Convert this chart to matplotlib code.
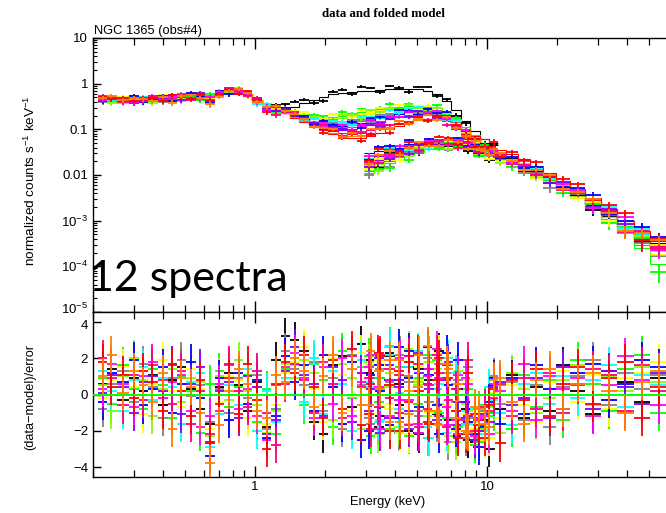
import numpy as np
import matplotlib
matplotlib.use("Agg")
import matplotlib.pyplot as plt
import matplotlib.transforms as mtransforms
from matplotlib.ticker import FixedLocator, NullFormatter, LogLocator

plt.rcParams['font.family'] = ['Liberation Sans', 'DejaVu Sans']
plt.rcParams['mathtext.fontset'] = 'custom'
plt.rcParams['mathtext.rm'] = 'Liberation Sans'
plt.rcParams['mathtext.it'] = 'Liberation Sans'

# ---------------- data ----------------
# soft instrument grid (keV)
E_X = [0.22, 0.24, 0.27, 0.30, 0.33, 0.36, 0.40, 0.44, 0.48, 0.53, 0.58, 0.64, 0.70, 0.77,
       0.85, 0.93, 1.02, 1.12, 1.23, 1.35, 1.48, 1.63, 1.79, 1.97, 2.16, 2.38, 2.61, 2.87,
       3.15, 3.46, 3.80, 4.18, 4.59, 5.04, 5.54, 6.09, 6.69, 7.35, 8.08, 8.88, 9.76, 10.7]
# hard instrument grid (keV)
E_N = [3.1, 3.4, 3.8, 4.2, 4.6, 5.1, 5.6, 6.2, 6.8, 7.5, 8.3, 9.2, 10.2, 11.4, 12.8, 14.4,
       16.3, 18.6, 21.3, 24.6, 28.6, 33.5, 39.5, 46.5, 55.0]

# fractional errors
ERR_X = [0.12, 0.12, 0.12, 0.12, 0.12, 0.12, 0.11, 0.11, 0.11, 0.10, 0.10, 0.10, 0.10, 0.10,
         0.10, 0.10, 0.10, 0.10, 0.10, 0.10, 0.10, 0.09, 0.09, 0.09, 0.09, 0.09, 0.09, 0.09,
         0.08, 0.08, 0.08, 0.08, 0.08, 0.08, 0.08, 0.08, 0.09, 0.10, 0.11, 0.13, 0.15, 0.17]
ERR_N = [0.14, 0.13, 0.12, 0.11, 0.10, 0.10, 0.09, 0.09, 0.09, 0.09, 0.09, 0.10, 0.10, 0.11,
         0.12, 0.13, 0.14, 0.15, 0.16, 0.18, 0.20, 0.22, 0.25, 0.28, 0.30]

# shared soft-band folded model (0.22 - 1.23 keV)
SOFT_MODEL = [0.43, 0.43, 0.43, 0.43, 0.43, 0.44, 0.46, 0.48, 0.50, 0.53, 0.55, 0.57, 0.62,
              0.68, 0.68, 0.58, 0.44, 0.35, 0.29]

names = ["black", "gray", "green", "yellow", "chartreuse", "cyan", "blue", "purple",
         "magenta", "pink", "red", "orange"]
colors = ["#000000", "#808080", "#00FF00", "#FFFF00", "#80FF00", "#00FFFF", "#0000FF",
          "#8000FF", "#FF00FF", "#FF0080", "#FF0000", "#FF8000"]

# folded model 1.35 - 10.7 keV (soft instrument)
HARD_X = {
    "black":      [0.27, 0.31, 0.37, 0.44, 0.52, 0.58, 0.62, 0.65, 0.68, 0.70, 0.72, 0.75, 0.77, 0.78, 0.76, 0.70, 0.58, 0.42, 0.26, 0.15, 0.09, 0.06, 0.045],
    "gray":       [0.24, 0.20, 0.17, 0.15, 0.135, 0.13, 0.13, 0.135, 0.15, 0.165, 0.185, 0.205, 0.225, 0.24, 0.25, 0.25, 0.24, 0.20, 0.14, 0.095, 0.065, 0.045, 0.032],
    "green":      [0.24, 0.21, 0.19, 0.18, 0.18, 0.19, 0.20, 0.22, 0.24, 0.26, 0.28, 0.30, 0.31, 0.32, 0.32, 0.31, 0.29, 0.24, 0.17, 0.11, 0.075, 0.05, 0.035],
    "yellow":     [0.24, 0.21, 0.19, 0.18, 0.175, 0.18, 0.19, 0.20, 0.22, 0.24, 0.26, 0.28, 0.29, 0.30, 0.30, 0.29, 0.27, 0.22, 0.16, 0.10, 0.07, 0.048, 0.034],
    "chartreuse": [0.24, 0.20, 0.18, 0.17, 0.165, 0.17, 0.18, 0.19, 0.21, 0.23, 0.25, 0.27, 0.28, 0.29, 0.29, 0.28, 0.26, 0.21, 0.15, 0.10, 0.068, 0.047, 0.033],
    "cyan":       [0.24, 0.20, 0.17, 0.15, 0.14, 0.135, 0.14, 0.15, 0.165, 0.18, 0.20, 0.22, 0.24, 0.25, 0.26, 0.26, 0.25, 0.20, 0.14, 0.095, 0.065, 0.045, 0.032],
    "blue":       [0.24, 0.20, 0.17, 0.145, 0.13, 0.12, 0.12, 0.125, 0.14, 0.16, 0.18, 0.20, 0.22, 0.24, 0.25, 0.25, 0.24, 0.20, 0.14, 0.095, 0.065, 0.045, 0.032],
    "purple":     [0.23, 0.19, 0.16, 0.13, 0.115, 0.10, 0.095, 0.10, 0.11, 0.125, 0.145, 0.165, 0.185, 0.20, 0.21, 0.21, 0.20, 0.17, 0.125, 0.087, 0.06, 0.042, 0.03],
    "magenta":    [0.23, 0.19, 0.16, 0.135, 0.12, 0.11, 0.105, 0.11, 0.12, 0.135, 0.155, 0.175, 0.195, 0.21, 0.22, 0.22, 0.21, 0.18, 0.13, 0.09, 0.062, 0.043, 0.031],
    "pink":       [0.23, 0.19, 0.155, 0.125, 0.105, 0.09, 0.082, 0.08, 0.085, 0.095, 0.11, 0.125, 0.14, 0.155, 0.165, 0.17, 0.17, 0.15, 0.115, 0.082, 0.057, 0.04, 0.029],
    "red":        [0.23, 0.18, 0.145, 0.115, 0.095, 0.08, 0.068, 0.063, 0.065, 0.072, 0.085, 0.10, 0.12, 0.14, 0.16, 0.17, 0.18, 0.17, 0.14, 0.10, 0.072, 0.06, 0.05],
    "orange":     [0.23, 0.185, 0.15, 0.12, 0.10, 0.085, 0.075, 0.072, 0.075, 0.085, 0.10, 0.115, 0.13, 0.145, 0.16, 0.17, 0.175, 0.16, 0.125, 0.09, 0.062, 0.044, 0.032],
}

# folded model, hard instrument
MODEL_N = {
    "black":      [0.015, 0.019, 0.024, 0.029, 0.034, 0.039, 0.044, 0.048, 0.049, 0.047, 0.043, 0.037, 0.031, 0.025, 0.0195, 0.0148, 0.011, 0.0078, 0.0054, 0.0036, 0.0022, 0.00125, 0.0007, 0.00039, 0.00024],
    "gray":       [0.012, 0.016, 0.020, 0.025, 0.030, 0.035, 0.040, 0.044, 0.046, 0.044, 0.040, 0.035, 0.029, 0.023, 0.018, 0.0137, 0.0101, 0.0071, 0.0049, 0.0032, 0.0019, 0.0011, 0.00058, 0.00030, 0.00017],
    "green":      [0.011, 0.014, 0.018, 0.022, 0.027, 0.032, 0.037, 0.041, 0.044, 0.044, 0.041, 0.036, 0.031, 0.025, 0.019, 0.0145, 0.011, 0.0077, 0.0053, 0.0035, 0.0021, 0.0011, 0.00055, 0.00025, 0.00011],
    "yellow":     [0.014, 0.018, 0.023, 0.028, 0.033, 0.038, 0.043, 0.047, 0.048, 0.046, 0.042, 0.036, 0.030, 0.024, 0.019, 0.0143, 0.0106, 0.0075, 0.0052, 0.0034, 0.0021, 0.0012, 0.00065, 0.00034, 0.00019],
    "chartreuse": [0.013, 0.017, 0.021, 0.026, 0.031, 0.036, 0.041, 0.045, 0.047, 0.045, 0.041, 0.036, 0.030, 0.024, 0.0188, 0.0142, 0.0105, 0.0074, 0.0051, 0.0034, 0.0021, 0.0012, 0.00064, 0.00033, 0.00018],
    "cyan":       [0.020, 0.024, 0.029, 0.034, 0.039, 0.044, 0.048, 0.052, 0.053, 0.051, 0.047, 0.041, 0.035, 0.028, 0.022, 0.0165, 0.0123, 0.0087, 0.0061, 0.0041, 0.0026, 0.0015, 0.00085, 0.00050, 0.00032],
    "blue":       [0.030, 0.034, 0.039, 0.043, 0.047, 0.051, 0.055, 0.058, 0.058, 0.055, 0.050, 0.043, 0.036, 0.029, 0.022, 0.017, 0.0125, 0.0088, 0.0062, 0.0042, 0.0027, 0.0015, 0.00085, 0.00048, 0.00030],
    "purple":     [0.017, 0.021, 0.026, 0.031, 0.036, 0.041, 0.046, 0.050, 0.051, 0.049, 0.045, 0.039, 0.033, 0.027, 0.021, 0.0158, 0.0117, 0.0082, 0.0057, 0.0038, 0.0024, 0.0014, 0.00077, 0.00043, 0.00026],
    "magenta":    [0.022, 0.026, 0.031, 0.035, 0.040, 0.045, 0.049, 0.053, 0.054, 0.052, 0.048, 0.042, 0.035, 0.028, 0.022, 0.0165, 0.0122, 0.0086, 0.006, 0.0040, 0.0025, 0.0014, 0.0008, 0.00045, 0.00028],
    "pink":       [0.016, 0.020, 0.025, 0.030, 0.035, 0.040, 0.045, 0.049, 0.050, 0.048, 0.044, 0.038, 0.032, 0.026, 0.020, 0.0152, 0.0113, 0.008, 0.0056, 0.0037, 0.0023, 0.0013, 0.00074, 0.00041, 0.00025],
    "red":        [0.024, 0.029, 0.034, 0.039, 0.044, 0.049, 0.054, 0.058, 0.060, 0.059, 0.055, 0.049, 0.043, 0.036, 0.029, 0.022, 0.016, 0.011, 0.0075, 0.0049, 0.0031, 0.0018, 0.0010, 0.00058, 0.00036],
    "orange":     [0.019, 0.023, 0.028, 0.033, 0.038, 0.043, 0.047, 0.051, 0.052, 0.050, 0.046, 0.040, 0.034, 0.027, 0.021, 0.016, 0.0118, 0.0083, 0.0058, 0.0039, 0.0024, 0.0014, 0.00078, 0.00044, 0.00027],
}

# residuals (data-model)/error, soft instrument
RES_X = {
    "black":      [0.6, 1.4, -0.3, 0.9, 0.2, 1.1, -0.6, 0.8, 1.5, 0.3, -0.8, -1.6, 0.4, 1.2, 0.5, -0.9, 0.7, -1.8, 1.9, 3.2, 3.0, 2.4, -1.5, -2.2, 1.6, 2.1, -0.7, 2.8, 1.9, -1.2, 2.3, 0.6, -2.0, 1.4, 2.6, -1.1, 0.9, -2.3, -0.8, -2.6, -1.4, 0.5],
    "gray":       [-0.8, 0.6, 1.3, -0.4, 1.7, 0.4, -1.3, 0.9, 1.9, -0.1, 0.5, -1.5, 0.3, -1.0, 0.9, -0.2, 1.1, -1.9, -0.8, 2.4, 1.4, 0.5, 1.8, -0.9, 0.9, -1.9, 2.2, 0.5, -1.6, 1.4, 0.7, -2.1, 1.0, -0.9, 2.0, -1.6, 1.2, -0.4, -2.4, -1.3, -0.9, 1.0],
    "green":      [0.9, -0.5, 1.6, 0.3, -0.8, 1.4, 0.5, -1.3, 1.0, 0.2, -2.1, 0.6, 1.3, -0.7, 0.4, 1.1, -1.5, 0.3, -2.2, 1.4, 2.0, -0.6, 1.7, 0.8, -1.8, 2.4, -0.2, 1.5, -2.3, 0.9, 2.7, -1.0, 1.8, -0.5, -2.4, 1.9, -1.3, 0.6, -1.6, -2.8, -0.6, -1.0],
    "yellow":     [-0.2, 0.8, 1.5, 0.4, -1.1, 0.6, 1.9, 0.2, -0.7, 1.4, 0.3, -1.9, -0.4, 1.0, 0.8, -1.3, 0.4, -1.6, -0.6, 1.2, 1.8, 2.6, 0.3, -1.5, 2.0, 1.1, -0.9, 2.3, -1.1, 1.7, -0.5, 2.0, -2.2, 0.8, 1.8, -1.2, 0.5, -2.0, -1.1, -1.9, -2.5, 0.1],
    "chartreuse": [0.5, -0.9, 1.0, 2.0, 0.8, -1.2, 0.3, 1.4, -0.4, 0.9, 0.7, -2.3, 1.0, -0.3, 1.9, 0.2, -0.6, -2.1, -0.9, 1.7, 0.9, 1.9, 1.2, -0.6, -1.4, 1.7, 0.9, -1.9, 1.6, -0.7, 1.2, -1.8, 2.5, 0.5, -1.2, 1.4, 0.9, -2.6, -0.5, -1.5, -1.9, -0.5],
    "cyan":       [1.3, 0.2, -0.9, 0.8, 1.5, -0.3, 0.9, 0.4, -1.6, 0.7, 1.2, -2.9, -1.1, 0.5, -0.6, 1.4, -2.0, 0.2, -1.5, 0.9, 1.6, -0.4, 2.0, -1.1, 1.3, 0.6, -2.0, 1.9, 0.4, -1.4, 2.2, -0.8, 1.5, 2.4, -1.8, 0.3, -2.1, 1.2, -1.7, -0.8, -2.0, -0.3],
    "blue":       [-0.4, 1.2, 0.7, 1.9, -0.6, 0.3, 1.5, -1.0, 0.6, 1.8, -0.2, -3.4, 0.9, -1.4, 1.2, -0.5, 0.8, -2.4, -1.2, 2.1, 0.7, 1.6, -0.9, 2.2, 0.4, -1.6, 1.8, -2.5, 1.1, 0.2, -1.7, 2.6, 0.9, -2.1, 1.4, -0.6, 2.3, -1.9, -0.4, -2.2, -1.8, 0.9],
    "purple":     [0.1, 1.1, 0.4, -1.0, 0.7, 1.0, 0.2, 1.7, -1.1, 0.6, 1.5, -2.7, 0.2, 0.7, -1.3, 1.0, 0.4, -2.2, -1.4, 1.3, 2.6, 1.1, 0.6, -1.2, 1.5, 0.8, -1.5, 1.2, 0.3, -2.1, 1.6, 0.4, -0.9, 2.3, 0.6, -1.4, 0.8, -1.7, -1.3, -2.5, -1.1, 0.4],
    "magenta":    [0.3, 1.7, 0.6, -0.7, 1.0, 1.8, -0.2, 0.7, 1.1, -0.9, -1.8, -1.2, 0.6, 1.6, -0.8, 0.3, -1.2, -2.5, 0.5, 1.5, 2.3, 0.9, -1.3, 1.5, -0.5, 2.0, -1.2, 0.7, 2.2, -1.9, 0.8, -0.3, 2.1, -1.6, 1.0, 2.5, -0.7, -1.4, 0.9, -2.3, -1.2, 0.6],
    "pink":       [2.0, 0.9, -0.6, 1.1, -0.3, 1.6, 0.8, -0.5, 1.3, -1.6, 0.2, -2.2, -0.9, 1.7, 0.2, -0.7, 1.3, -1.0, -2.8, 0.6, 1.7, 0.8, -1.0, 1.8, 0.6, -1.3, 2.1, 0.4, -1.9, 2.2, -0.2, 1.1, -1.7, 1.7, -0.8, 2.2, -1.8, 0.3, -1.4, -2.0, -0.7, -0.2],
    "red":        [1.8, 0.4, 1.1, -0.2, 1.3, 0.7, -0.9, 1.6, 0.2, -1.2, 0.8, -2.6, -0.5, 0.9, -1.1, 1.7, -0.3, -3.0, 0.6, 1.8, 1.2, 2.2, 0.4, -1.3, 1.9, -0.8, 2.5, -1.7, 0.6, 2.1, -2.0, 1.3, -0.4, 2.2, -1.5, 0.8, 1.6, -0.9, -2.2, -1.1, -2.4, 0.3],
    "orange":     [1.0, 2.2, 0.1, 1.3, 0.5, -0.4, 1.2, -1.9, 0.9, 0.4, -1.0, -3.8, -1.7, 0.2, 1.4, 0.6, -0.9, -1.3, 1.1, 0.7, 2.0, 1.3, -0.7, 1.0, 2.2, -1.0, 1.4, -0.6, 2.4, 0.3, -1.5, 1.9, -1.1, 0.4, 2.7, -0.9, 1.7, -1.3, -2.0, -0.7, -1.6, 0.8],
}

# residuals, hard instrument
RES_N = {
    "black":      [1.2, -1.8, 2.1, -0.6, 1.5, -2.2, 0.8, 2.4, -1.4, 0.3, -2.5, -1.9, -3.0, -0.8, 1.1, -1.3, 0.4, -0.9, 1.6, 0.2, -1.1, 1.3, 0.7, -0.4, 0.9],
    "gray":       [-1.3, 0.9, -2.0, 2.2, 0.7, -1.2, -0.4, 1.7, -2.6, 0.8, 1.5, -2.4, -1.0, -0.5, 0.7, -1.4, 0.5, -1.8, 0.4, 1.0, 1.9, -0.6, 1.2, 0.3, 1.1],
    "green":      [2.1, -0.4, -1.9, 1.5, -2.3, 0.9, 2.2, -1.0, 1.6, -1.8, 0.3, -2.6, -1.2, 0.5, -1.9, 1.1, -0.7, 0.8, -1.4, 1.9, 0.6, -0.9, 1.4, 2.2, -1.0],
    "yellow":     [0.3, 1.9, -0.8, -2.1, 0.9, 1.5, -1.0, 2.3, -0.6, -2.0, 0.8, -1.0, -2.4, -1.3, 0.5, -0.6, -1.5, 0.7, 1.3, -0.4, 1.1, -0.8, 0.9, 1.2, 1.8],
    "chartreuse": [1.8, -2.2, 0.4, 1.1, -1.6, 0.7, 1.8, -0.5, -2.3, 1.3, -0.9, -1.9, -0.7, -2.1, 1.2, 0.3, -1.0, -0.2, 0.8, 1.6, -0.6, 1.0, 0.2, 1.5, 0.7],
    "cyan":       [0.7, -1.5, 2.6, 0.1, -1.1, 1.7, -2.4, 0.6, 2.0, -0.9, -1.6, -2.2, 0.4, -1.0, -1.7, 0.6, 1.2, -0.5, 1.0, -0.2, 0.8, 1.6, -0.7, 1.1, 0.5],
    "blue":       [-2.0, 1.6, 0.8, -1.3, 2.4, -0.7, 1.1, -2.2, 0.5, 1.9, -1.5, -2.9, -0.4, -1.6, 0.9, -1.1, 1.6, 0.3, -0.8, 1.2, 1.7, -0.3, 0.6, 1.9, 1.5],
    "purple":     [-0.9, 2.0, -1.3, 0.8, -1.9, 1.2, 0.3, -1.2, 1.8, -0.4, -1.2, -2.0, -1.5, 0.7, -0.6, -0.2, 0.9, -1.3, 1.5, 0.6, -0.8, 1.3, 0.4, -0.5, 1.2],
    "magenta":    [1.5, 0.4, -1.2, 2.0, -0.3, -2.1, 1.4, 0.9, -1.7, 1.1, 0.6, -1.3, -2.2, 0.2, -0.9, 1.7, -1.4, 1.0, 0.3, 0.9, -1.2, 0.5, 2.1, 0.8, -0.6],
    "pink":       [0.9, -0.7, 1.4, -1.0, 2.1, -1.8, 0.5, 1.2, -0.3, -2.2, 1.9, -1.4, -0.9, 0.6, -1.2, 0.9, -0.8, 1.2, -1.0, 0.5, 1.4, 1.1, -0.9, 1.6, 0.2],
    "red":        [-1.1, 2.3, 0.5, -2.0, 1.8, 0.2, -1.6, 2.0, 0.9, -2.4, 1.2, -1.7, -0.6, -2.7, 0.8, -0.3, 1.4, -1.2, 0.6, 1.5, -0.5, 0.9, 1.8, -1.3, 0.4],
    "orange":     [-0.6, 1.3, 1.9, -1.5, 0.2, 2.2, -0.9, -1.7, 1.4, 0.6, -2.1, -0.8, -1.8, 0.9, -0.4, -1.6, 0.8, 1.4, -0.8, 0.6, 1.2, 0.2, -1.0, 0.7, 1.3],
}

# ---------------- helpers ----------------
def bin_edges(c):
    c = np.asarray(c, float)
    mid = np.sqrt(c[1:] * c[:-1])
    lo = np.r_[c[0] ** 2 / mid[0], mid]
    hi = np.r_[mid, c[-1] ** 2 / mid[-1]]
    return lo, hi

ex = np.asarray(E_X); en = np.asarray(E_N)
lox, hix = bin_edges(ex); lon, hin = bin_edges(en)
errx = np.asarray(ERR_X); errn = np.asarray(ERR_N)

W, H = 666, 513
fig = plt.figure(figsize=(W / 100, H / 100), dpi=100)
L, R = 93, 683
ax1 = fig.add_axes([L / W, 1 - 312 / H, (R - L) / W, 274 / H])
ax2 = fig.add_axes([L / W, 1 - 477 / H, (R - L) / W, 165 / H])

lw = 1.3
for nm, col in zip(names, colors):
    mx = np.r_[SOFT_MODEL, HARD_X[nm]]
    rx = np.asarray(RES_X[nm])
    dx = mx * (1 + rx * errx)
    mn = np.asarray(MODEL_N[nm])
    rn = np.asarray(RES_N[nm])
    dn = mn * (1 + rn * errn)
    ax1.stairs(mx, np.r_[lox[0], hix], color=col, lw=0.8, baseline=None)
    ax1.stairs(mn, np.r_[lon[0], hin], color=col, lw=0.8, baseline=None)
    ax1.errorbar(ex, dx, xerr=[ex - lox, hix - ex], yerr=mx * errx, fmt='none',
                 ecolor=col, elinewidth=lw, capsize=0)
    ax1.errorbar(en, dn, xerr=[en - lon, hin - en], yerr=mn * errn, fmt='none',
                 ecolor=col, elinewidth=lw, capsize=0)
    ax2.errorbar(ex, rx, xerr=[ex - lox, hix - ex], yerr=1.0, fmt='none',
                 ecolor=col, elinewidth=lw, capsize=0)
    ax2.errorbar(en, rn, xerr=[en - lon, hin - en], yerr=1.0, fmt='none',
                 ecolor=col, elinewidth=lw, capsize=0)

ax2.axhline(0, color='#00FF00', lw=1.4, zorder=5)

for ax in (ax1, ax2):
    ax.set_xscale('log')
    ax.set_xlim(0.2, 70)
    ax.spines['right'].set_visible(False)
    for s in ('left', 'top', 'bottom'):
        ax.spines[s].set_linewidth(1.0)
    ax.xaxis.set_major_locator(FixedLocator([1, 10]))
    ax.xaxis.set_minor_locator(LogLocator(base=10, subs=range(2, 10), numticks=20))
    ax.xaxis.set_minor_formatter(NullFormatter())
    ax.tick_params(axis='x', which='major', direction='in', length=8, width=1.0,
                   top=True, bottom=True, labelsize=9.5, pad=3)
    ax.tick_params(axis='x', which='minor', direction='in', length=5, width=0.9,
                   top=True, bottom=True)
    ax.tick_params(axis='y', which='both', direction='in', right=False, labelsize=9.5)

ax1.set_yscale('log')
ax1.set_ylim(1e-5, 10)
ax1.yaxis.set_major_locator(FixedLocator([1e-5, 1e-4, 1e-3, 1e-2, 0.1, 1, 10]))
ax1.set_yticklabels([r'$10^{-5}$', r'$10^{-4}$', r'$10^{-3}$', '0.01', '0.1', '1', '10'])
ax1.yaxis.set_minor_locator(LogLocator(base=10, subs=range(2, 10), numticks=20))
ax1.yaxis.set_minor_formatter(NullFormatter())
ax1.tick_params(axis='y', which='major', length=6, width=1.0)
ax1.tick_params(axis='y', which='minor', length=3, width=0.8)
ax1.tick_params(axis='x', which='both', labelbottom=False)
lab0 = ax1.get_yticklabels()[0]
lab0.set_transform(lab0.get_transform() + mtransforms.ScaledTranslation(0, 3 / 72, fig.dpi_scale_trans))

ax2.set_ylim(-4.55, 4.55)
ax2.yaxis.set_major_locator(FixedLocator([-4, -2, 0, 2, 4]))
ax2.tick_params(axis='y', which='major', length=6, width=1.0)
ax2.set_xticklabels(['1', '10'])
lab4 = ax2.get_yticklabels()[-1]
lab4.set_transform(lab4.get_transform() + mtransforms.ScaledTranslation(0, -2 / 72, fig.dpi_scale_trans))

fig.text(383 / W, 1 - 14 / H, 'data and folded model', ha='center', va='center',
         family='Liberation Serif', fontweight='bold', fontsize=9.3)
fig.text(94 / W, 1 - 34 / H, 'NGC 1365 (obs#4)', ha='left', va='baseline', fontsize=9.3)
fig.text(30 / W, 1 - 181 / H, 'normalized counts s$^{-1}$ keV$^{-1}$', rotation=90,
         ha='center', va='center', fontsize=9.7)
fig.text(30 / W, 1 - 397 / H, '(data\u2212model)/error', rotation=90,
         ha='center', va='center', fontsize=9.2)
fig.text(388 / W, 1 - 502 / H, 'Energy (keV)', ha='center', va='center', fontsize=9.3)
fig.text(89 / W, 1 - 291 / H, '12 spectra', ha='left', va='baseline',
         family='Lato', fontsize=31)

fig.savefig('out.png', dpi=100)
